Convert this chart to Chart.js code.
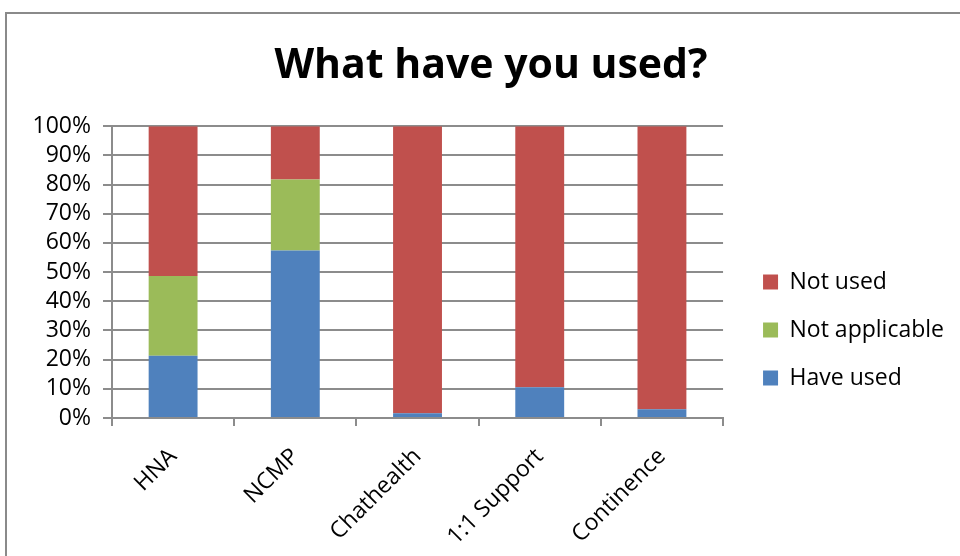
<!DOCTYPE html>
<html>
<head>
<meta charset="utf-8">
<script src="https://cdn.jsdelivr.net/npm/chart.js@4/dist/chart.umd.min.js"></script>
<style>
  html, body { margin: 0; padding: 0; background: #fff; overflow: hidden; }
  #wrap { position: relative; width: 960px; height: 556px; }
  #frame { position: absolute; left: 5px; top: 12px; width: 1000px; height: 600px; border: 2px solid #8a8a8a; box-sizing: border-box; }
  canvas { position: absolute; left: 0; top: 0; }
</style>
</head>
<body>
<div id="wrap">
  <div id="frame"></div>
  <canvas id="c" width="960" height="556"></canvas>
</div>
<script>
const categories = ["HNA", "NCMP", "Chathealth", "1:1 Support", "Continence"];
const haveUsed = [21.3, 57.4, 1.6, 10.5, 3.0];
const notApplicable = [27.4, 24.3, 0, 0, 0];
const notUsed = [51.3, 18.3, 98.4, 89.5, 97.0];
const yTicks = [0, 10, 20, 30, 40, 50, 60, 70, 80, 90, 100];

const FONT = "'Open Sans', 'Liberation Sans', sans-serif";
const GRID = "#8c8c8c";

const chart = new Chart(document.getElementById("c"), {
  type: "bar",
  data: {
    labels: categories,
    datasets: [
      { label: "Have used", data: haveUsed, backgroundColor: "#4F81BD" },
      { label: "Not applicable", data: notApplicable, backgroundColor: "#9BBB59" },
      { label: "Not used", data: notUsed, backgroundColor: "#C0504D" }
    ]
  },
  options: {
    responsive: false,
    animation: false,
    devicePixelRatio: 1,
    categoryPercentage: 1,
    barPercentage: 0.4,
    layout: { padding: { left: 28, right: 6, top: 0, bottom: 0 } },
    plugins: {
      tooltip: { enabled: false },
      title: {
        display: true,
        text: "What have you used?",
        color: "#000",
        font: { family: FONT, size: 41, weight: "bold" },
        padding: { top: 42, bottom: 35 }
      },
      legend: {
        position: "right",
        reverse: true,
        maxWidth: 400,
        title: { display: true, text: " ", font: { family: FONT, size: 10 }, padding: { top: 92, bottom: 0 } },
        labels: {
          color: "#000",
          font: { family: FONT, size: 23 },
          boxWidth: 15,
          boxHeight: 15,
          padding: 25
        }
      }
    },
    scales: {
      x: {
        stacked: true,
        grid: { display: true, drawOnChartArea: false, drawTicks: true, tickLength: 8, color: GRID, lineWidth: 2, offset: true },
        border: { display: true, color: GRID, width: 2 },
        ticks: { color: "#000", font: { family: FONT, size: 23 }, minRotation: 45, maxRotation: 45, padding: 17, autoSkip: false },
        afterFit: (s) => { s.height = 138; }
      },
      y: {
        stacked: true,
        min: 0,
        max: 100,
        afterBuildTicks: (s) => { s.ticks = yTicks.map(v => ({ value: v })); },
        grid: { color: GRID, lineWidth: 2, tickLength: 9 },
        border: { display: true, color: GRID, width: 2 },
        ticks: { color: "#000", font: { family: FONT, size: 23 }, padding: 12, autoSkip: false, callback: (v) => v + "%" },
        afterFit: (s) => { s.width = 84; }
      },
      y2: {
        position: "right",
        display: true,
        grid: { display: false },
        border: { display: false },
        ticks: { display: false },
        afterFit: (s) => { s.width = 15; }
      }
    }
  }
});

if (document.fonts && document.fonts.load) {
  Promise.all([
    document.fonts.load("23px 'Open Sans'"),
    document.fonts.load("bold 41px 'Open Sans'")
  ]).then(() => chart.update()).catch(() => chart.update());
}
</script>
</body>
</html>
